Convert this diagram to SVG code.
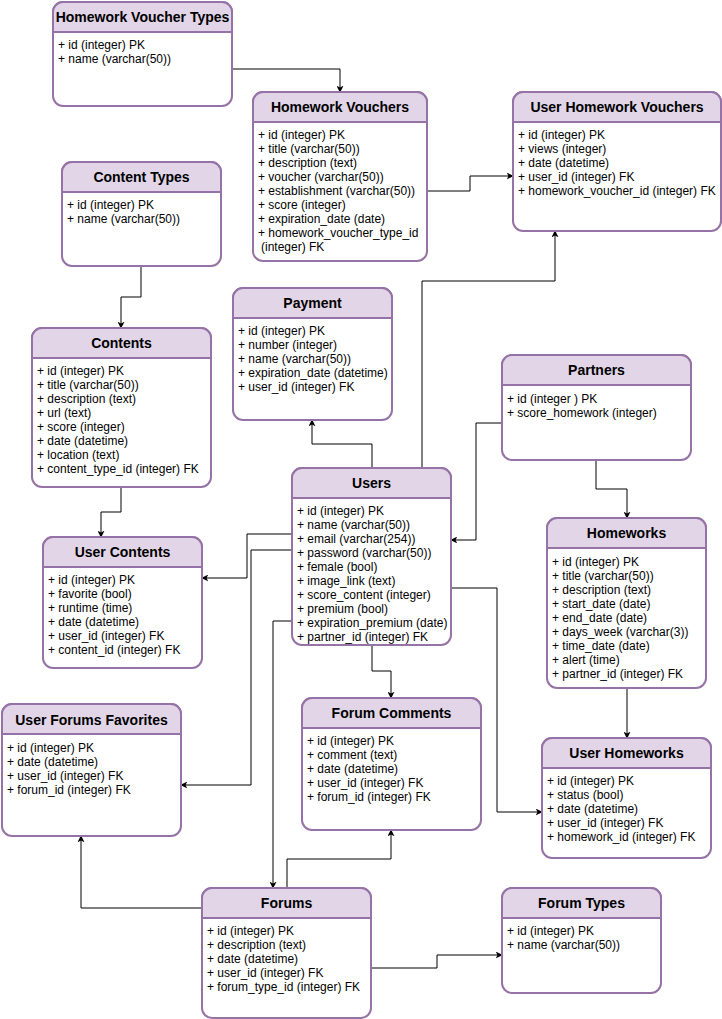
<svg xmlns="http://www.w3.org/2000/svg" width="722" height="1019" viewBox="0 0 722 1019">
<style>
.box{fill:#ffffff;stroke:#9673a6;stroke-width:2}
.hd{fill:#e1d5e7;stroke:#9673a6;stroke-width:2}
.sep{stroke:#9673a6;stroke-width:2}
.t{font-family:"Liberation Sans",Arial,sans-serif;font-size:14px;font-weight:bold;fill:#000;text-anchor:middle}
.b{font-family:"Liberation Sans",Arial,sans-serif;font-size:12px;fill:#000}
.c{fill:none;stroke:#000;stroke-width:1;marker-end:url(#a)}
</style>
<defs>
<marker id="a" viewBox="0 0 10 10" refX="9" refY="5" markerWidth="7" markerHeight="7" markerUnits="userSpaceOnUse" orient="auto">
<path d="M0,0 L10,5 L0,10 L2.5,5 z" fill="#000"/>
</marker>
</defs>
<rect width="722" height="1019" fill="#ffffff"/>
<g id="connectors">
<path class="c" d="M232 69 H340 V92"/>
<path class="c" d="M427 191 H470 V176 H513"/>
<path class="c" d="M422 468 V281 H555 V231"/>
<path class="c" d="M141 266 V297 H121 V328"/>
<path class="c" d="M121 487 V512 H101 V537"/>
<path class="c" d="M372 468 V444 H312 V420"/>
<path class="c" d="M502 423 H476 V540 H451"/>
<path class="c" d="M596 460 V489 H627 V518"/>
<path class="c" d="M627 688 V738"/>
<path class="c" d="M292 534 H247 V578 H202"/>
<path class="c" d="M292 550 H251 V785 H181"/>
<path class="c" d="M292 621 H273 V888"/>
<path class="c" d="M372 645 V671 H391 V698"/>
<path class="c" d="M451 588 H497 V812 H542"/>
<path class="c" d="M287 888 V859 H391 V830"/>
<path class="c" d="M202 908 H81 V836"/>
<path class="c" d="M371 968 H437 V955 H502"/>
</g>
<g id="homework_voucher_types">
<rect class="box" x="53" y="2" width="179" height="104" rx="10"/>
<path class="hd" d="M53 32 V12 A10 10 0 0 1 63 2 H222 A10 10 0 0 1 232 12 V32 Z"/>
<text class="t" x="142.5" y="22">Homework Voucher Types</text>
<text class="b"><tspan x="58" y="49">+ id (integer) PK</tspan><tspan x="58" y="63">+ name (varchar(50))</tspan></text>
</g>
<g id="homework_vouchers">
<rect class="box" x="253" y="92" width="174" height="169" rx="10"/>
<path class="hd" d="M253 122 V102 A10 10 0 0 1 263 92 H417 A10 10 0 0 1 427 102 V122 Z"/>
<text class="t" x="340" y="112">Homework Vouchers</text>
<text class="b"><tspan x="258" y="139">+ id (integer) PK</tspan><tspan x="258" y="153">+ title (varchar(50))</tspan><tspan x="258" y="167">+ description (text)</tspan><tspan x="258" y="181">+ voucher (varchar(50))</tspan><tspan x="258" y="195">+ establishment (varchar(50))</tspan><tspan x="258" y="209">+ score (integer)</tspan><tspan x="258" y="223">+ expiration_date (date)</tspan><tspan x="258" y="237">+ homework_voucher_type_id</tspan><tspan x="261" y="251">(integer) FK</tspan></text>
</g>
<g id="user_homework_vouchers">
<rect class="box" x="513" y="92" width="208" height="139" rx="10"/>
<path class="hd" d="M513 122 V102 A10 10 0 0 1 523 92 H711 A10 10 0 0 1 721 102 V122 Z"/>
<text class="t" x="617" y="112">User Homework Vouchers</text>
<text class="b"><tspan x="518" y="139">+ id (integer) PK</tspan><tspan x="518" y="153">+ views (integer)</tspan><tspan x="518" y="167">+ date (datetime)</tspan><tspan x="518" y="181">+ user_id (integer) FK</tspan><tspan x="518" y="195">+ homework_voucher_id (integer) FK</tspan></text>
</g>
<g id="content_types">
<rect class="box" x="62" y="162" width="159" height="104" rx="10"/>
<path class="hd" d="M62 192 V172 A10 10 0 0 1 72 162 H211 A10 10 0 0 1 221 172 V192 Z"/>
<text class="t" x="141.5" y="182">Content Types</text>
<text class="b"><tspan x="67" y="209">+ id (integer) PK</tspan><tspan x="67" y="223">+ name (varchar(50))</tspan></text>
</g>
<g id="contents">
<rect class="box" x="32" y="328" width="179" height="159" rx="10"/>
<path class="hd" d="M32 358 V338 A10 10 0 0 1 42 328 H201 A10 10 0 0 1 211 338 V358 Z"/>
<text class="t" x="121.5" y="348">Contents</text>
<text class="b"><tspan x="37" y="375">+ id (integer) PK</tspan><tspan x="37" y="389">+ title (varchar(50))</tspan><tspan x="37" y="403">+ description (text)</tspan><tspan x="37" y="417">+ url (text)</tspan><tspan x="37" y="431">+ score (integer)</tspan><tspan x="37" y="445">+ date (datetime)</tspan><tspan x="37" y="459">+ location (text)</tspan><tspan x="37" y="473">+ content_type_id (integer) FK</tspan></text>
</g>
<g id="payment">
<rect class="box" x="233" y="288" width="159" height="132" rx="10"/>
<path class="hd" d="M233 318 V298 A10 10 0 0 1 243 288 H382 A10 10 0 0 1 392 298 V318 Z"/>
<text class="t" x="312.5" y="308">Payment</text>
<text class="b"><tspan x="238" y="335">+ id (integer) PK</tspan><tspan x="238" y="349">+ number (integer)</tspan><tspan x="238" y="363">+ name (varchar(50))</tspan><tspan x="238" y="377">+ expiration_date (datetime)</tspan><tspan x="238" y="391">+ user_id (integer) FK</tspan></text>
</g>
<g id="partners">
<rect class="box" x="502" y="355" width="189" height="105" rx="10"/>
<path class="hd" d="M502 385 V365 A10 10 0 0 1 512 355 H681 A10 10 0 0 1 691 365 V385 Z"/>
<text class="t" x="596.5" y="375">Partners</text>
<text class="b"><tspan x="507" y="403">+ id (integer ) PK</tspan><tspan x="507" y="417">+ score_homework (integer)</tspan></text>
</g>
<g id="users">
<rect class="box" x="292" y="468" width="159" height="177" rx="10"/>
<path class="hd" d="M292 498 V478 A10 10 0 0 1 302 468 H441 A10 10 0 0 1 451 478 V498 Z"/>
<text class="t" x="371.5" y="488">Users</text>
<text class="b"><tspan x="297" y="515">+ id (integer) PK</tspan><tspan x="297" y="529">+ name (varchar(50))</tspan><tspan x="297" y="543">+ email (varchar(254))</tspan><tspan x="297" y="557">+ password (varchar(50))</tspan><tspan x="297" y="571">+ female (bool)</tspan><tspan x="297" y="585">+ image_link (text)</tspan><tspan x="297" y="599">+ score_content (integer)</tspan><tspan x="297" y="613">+ premium (bool)</tspan><tspan x="297" y="627">+ expiration_premium (date)</tspan><tspan x="297" y="641">+ partner_id (integer) FK</tspan></text>
</g>
<g id="user_contents">
<rect class="box" x="43" y="537" width="159" height="131" rx="10"/>
<path class="hd" d="M43 567 V547 A10 10 0 0 1 53 537 H192 A10 10 0 0 1 202 547 V567 Z"/>
<text class="t" x="122.5" y="557">User Contents</text>
<text class="b"><tspan x="48" y="584">+ id (integer) PK</tspan><tspan x="48" y="598">+ favorite (bool)</tspan><tspan x="48" y="612">+ runtime (time)</tspan><tspan x="48" y="626">+ date (datetime)</tspan><tspan x="48" y="640">+ user_id (integer) FK</tspan><tspan x="48" y="654">+ content_id (integer) FK</tspan></text>
</g>
<g id="homeworks">
<rect class="box" x="547" y="518" width="159" height="170" rx="10"/>
<path class="hd" d="M547 548 V528 A10 10 0 0 1 557 518 H696 A10 10 0 0 1 706 528 V548 Z"/>
<text class="t" x="626.5" y="538">Homeworks</text>
<text class="b"><tspan x="552" y="566">+ id (integer) PK</tspan><tspan x="552" y="580">+ title (varchar(50))</tspan><tspan x="552" y="594">+ description (text)</tspan><tspan x="552" y="608">+ start_date (date)</tspan><tspan x="552" y="622">+ end_date (date)</tspan><tspan x="552" y="636">+ days_week (varchar(3))</tspan><tspan x="552" y="650">+ time_date (date)</tspan><tspan x="552" y="664">+ alert (time)</tspan><tspan x="552" y="678">+ partner_id (integer) FK</tspan></text>
</g>
<g id="user_forums_favorites">
<rect class="box" x="2" y="704" width="179" height="132" rx="10"/>
<path class="hd" d="M2 734 V714 A10 10 0 0 1 12 704 H171 A10 10 0 0 1 181 714 V734 Z"/>
<text class="t" x="91.5" y="725">User Forums Favorites</text>
<text class="b"><tspan x="7" y="752">+ id (integer) PK</tspan><tspan x="7" y="766">+ date (datetime)</tspan><tspan x="7" y="780">+ user_id (integer) FK</tspan><tspan x="7" y="794">+ forum_id (integer) FK</tspan></text>
</g>
<g id="forum_comments">
<rect class="box" x="302" y="698" width="179" height="132" rx="10"/>
<path class="hd" d="M302 728 V708 A10 10 0 0 1 312 698 H471 A10 10 0 0 1 481 708 V728 Z"/>
<text class="t" x="391.5" y="718">Forum Comments</text>
<text class="b"><tspan x="307" y="745">+ id (integer) PK</tspan><tspan x="307" y="759">+ comment (text)</tspan><tspan x="307" y="773">+ date (datetime)</tspan><tspan x="307" y="787">+ user_id (integer) FK</tspan><tspan x="307" y="801">+ forum_id (integer) FK</tspan></text>
</g>
<g id="user_homeworks">
<rect class="box" x="542" y="738" width="169" height="120" rx="10"/>
<path class="hd" d="M542 768 V748 A10 10 0 0 1 552 738 H701 A10 10 0 0 1 711 748 V768 Z"/>
<text class="t" x="626.5" y="758">User Homeworks</text>
<text class="b"><tspan x="547" y="785">+ id (integer) PK</tspan><tspan x="547" y="799">+ status (bool)</tspan><tspan x="547" y="813">+ date (datetime)</tspan><tspan x="547" y="827">+ user_id (integer) FK</tspan><tspan x="547" y="841">+ homework_id (integer) FK</tspan></text>
</g>
<g id="forums">
<rect class="box" x="202" y="888" width="169" height="130" rx="10"/>
<path class="hd" d="M202 918 V898 A10 10 0 0 1 212 888 H361 A10 10 0 0 1 371 898 V918 Z"/>
<text class="t" x="286.5" y="908">Forums</text>
<text class="b"><tspan x="207" y="935">+ id (integer) PK</tspan><tspan x="207" y="949">+ description (text)</tspan><tspan x="207" y="963">+ date (datetime)</tspan><tspan x="207" y="977">+ user_id (integer) FK</tspan><tspan x="207" y="991">+ forum_type_id (integer) FK</tspan></text>
</g>
<g id="forum_types">
<rect class="box" x="502" y="888" width="159" height="105" rx="10"/>
<path class="hd" d="M502 918 V898 A10 10 0 0 1 512 888 H651 A10 10 0 0 1 661 898 V918 Z"/>
<text class="t" x="581.5" y="908">Forum Types</text>
<text class="b"><tspan x="507" y="935">+ id (integer) PK</tspan><tspan x="507" y="949">+ name (varchar(50))</tspan></text>
</g>
</svg>
